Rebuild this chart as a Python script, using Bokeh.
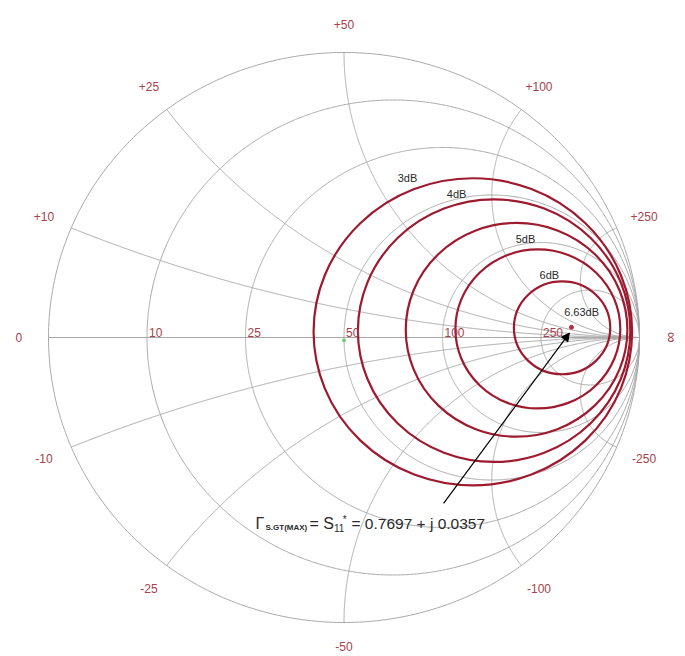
import numpy as np
from bokeh.plotting import figure
from bokeh.models import Label, Arrow, NormalHead
from bokeh.core.properties import value
from bokeh.embed import file_html
from bokeh.resources import INLINE

# ---------------- data ----------------
Z0 = 50.0
resistances = [10, 25, 50, 100, 250]          # ohm, constant-R circles
res_labels = ["10", "25", "50", "100", "250"]
reactances = [10, 25, 50, 100, 250]           # ohm, constant-X arcs (+/-)
react_pos_labels = ["+10", "+25", "+50", "+100", "+250"]
react_neg_labels = ["-10", "-25", "-50", "-100", "-250"]

# constant-gain circles (reflection-coefficient plane)
gain_cx = [0.436, 0.508, 0.584, 0.656, 0.738]
gain_cy = [0.020, 0.024, 0.027, 0.030, 0.034]
gain_r = [0.539, 0.461, 0.375, 0.279, 0.163]
gain_labels = ["3dB", "4dB", "5dB", "6dB", "6.63dB"]
gain_label_x = [0.215, 0.381, 0.614, 0.695, 0.804]
gain_label_y = [0.561, 0.505, 0.347, 0.218, 0.088]

gamma_opt_re = 0.7697
gamma_opt_im = 0.0357

# ---------------- styles ----------------
GRID = "#a8a8a8"
RED = "#9e1a2e"
LABRED = "#a8414b"
TXT = "#2a2a2a"
FONT = "Liberation Sans"

W, H = 685, 655
x0 = -1 - 48 / 295.5
y1 = 1 + 52 / 285.0
XR = (x0, x0 + W / 295.5)
YR = (y1 - H / 285.0, y1)

p = figure(width=W, height=H, x_range=XR, y_range=YR,
           output_backend="svg", toolbar_location=None, min_border=0,
           background_fill_color="white", border_fill_color="white")
p.axis.visible = False
p.grid.visible = False
p.outline_line_color = None


def gamma(z):
    return (z - 1) / (z + 1)


xs, ys = [], []
# outer circle (r = 0)
t = np.linspace(0, 2 * np.pi, 721)
xs.append(list(np.cos(t)))
ys.append(list(np.sin(t)))
# real axis
xs.append([-1.0, 1.0])
ys.append([0.0, 0.0])
# constant resistance circles
tt = np.linspace(-np.pi / 2 + 1e-4, np.pi / 2 - 1e-4, 1201)
for R in resistances:
    g = gamma(R / Z0 + 1j * np.tan(tt))
    xs.append(list(g.real) + [1.0])
    ys.append(list(g.imag) + [0.0])
# constant reactance arcs
tr = np.linspace(0, np.pi / 2 - 1e-4, 801)
for X in reactances:
    for s in (1, -1):
        g = gamma(np.tan(tr) + 1j * s * X / Z0)
        xs.append(list(g.real) + [1.0])
        ys.append(list(g.imag) + [0.0])

p.multi_line(xs, ys, line_color=GRID, line_width=1)

# gain circles
p.ellipse(x=gain_cx, y=gain_cy, width=[2 * r for r in gain_r],
          height=[2 * r for r in gain_r], fill_color=None,
          line_color=RED, line_width=2.2)

# centre point and optimum point
p.scatter([0.0], [-0.01], size=3, color="#6fcf6f")
p.scatter([gamma_opt_re], [gamma_opt_im], size=4, color="#c0283c")

# reactance labels outside the chart
for X, lp, ln in zip(reactances, react_pos_labels, react_neg_labels):
    g = gamma(1j * X / Z0)
    for lab, yy in ((lp, g.imag), (ln, -g.imag)):
        rad = 1.085 if lab == "-50" else 1.1
        p.add_layout(Label(x=rad * g.real, y=rad * yy, text=lab,
                           text_align="center", text_baseline="middle",
                           text_font=FONT, text_font_size="12px",
                           text_color=LABRED))
p.add_layout(Label(x=-1.1, y=0, text="0", text_align="center",
                   text_baseline="middle", text_font=FONT,
                   text_font_size="12px", text_color=LABRED))
p.add_layout(Label(x=1.1, y=0, text="∞", text_align="center",
                   text_baseline="middle", text_font=FONT, angle=np.pi / 2,
                   text_font_size="15px", text_color=LABRED))

# resistance labels on the axis
for R, lab in zip(resistances, res_labels):
    g = gamma(R / Z0)
    p.add_layout(Label(x=g.real, y=0, text=lab, x_offset=2, y_offset=1,
                       text_align="left", text_baseline="bottom",
                       text_font=FONT, text_font_size="12px",
                       text_color=LABRED))

# gain labels
for gx, gy, lab in zip(gain_label_x, gain_label_y, gain_labels):
    p.add_layout(Label(x=gx, y=gy, text=lab, text_align="center",
                       text_baseline="middle", text_font=FONT,
                       text_font_size="11px", text_color=TXT))

# annotation text: white backgrounds first, then the text on top
pieces = [
    (-0.2995, -0.6526, "Γ", "16px", False, True),
    (-0.2657, -0.6667, "S.GT(MAX)", "8px", True, True),
    (-0.1168, -0.6526, "= S", "16px", False, True),
    (-0.0340, -0.6667, "11", "10px", False, True),
    (-0.0040, -0.6386, "*", "10px", False, False),
    (0.0254, -0.6526, "= 0.7697 + j 0.0357", "15.5px", False, True),
]
for x, y, text, size, bold, bg in pieces:
    if bg:
        p.add_layout(Label(x=x, y=y, text=text, text_align="left",
                           text_baseline="alphabetic", text_font=FONT,
                           text_font_size=size, text_alpha=0.0,
                           text_font_style="bold" if bold else "normal",
                           background_fill_color="white", padding=2))
for x, y, text, size, bold, bg in pieces:
    p.add_layout(Label(x=x, y=y, text=text, text_align="left",
                       text_baseline="alphabetic", text_font=FONT,
                       text_font_size=size, text_color=TXT,
                       text_font_style="bold" if bold else "normal"))

p.add_layout(Arrow(end=NormalHead(size=8, fill_color="black",
                                  line_color="black"),
                   x_start=0.337, y_start=-0.582,
                   x_end=gamma_opt_re - 0.007, y_end=gamma_opt_im - 0.02,
                   line_color="black", line_width=1.2))

open("out.html", "w").write(file_html(p, INLINE))
